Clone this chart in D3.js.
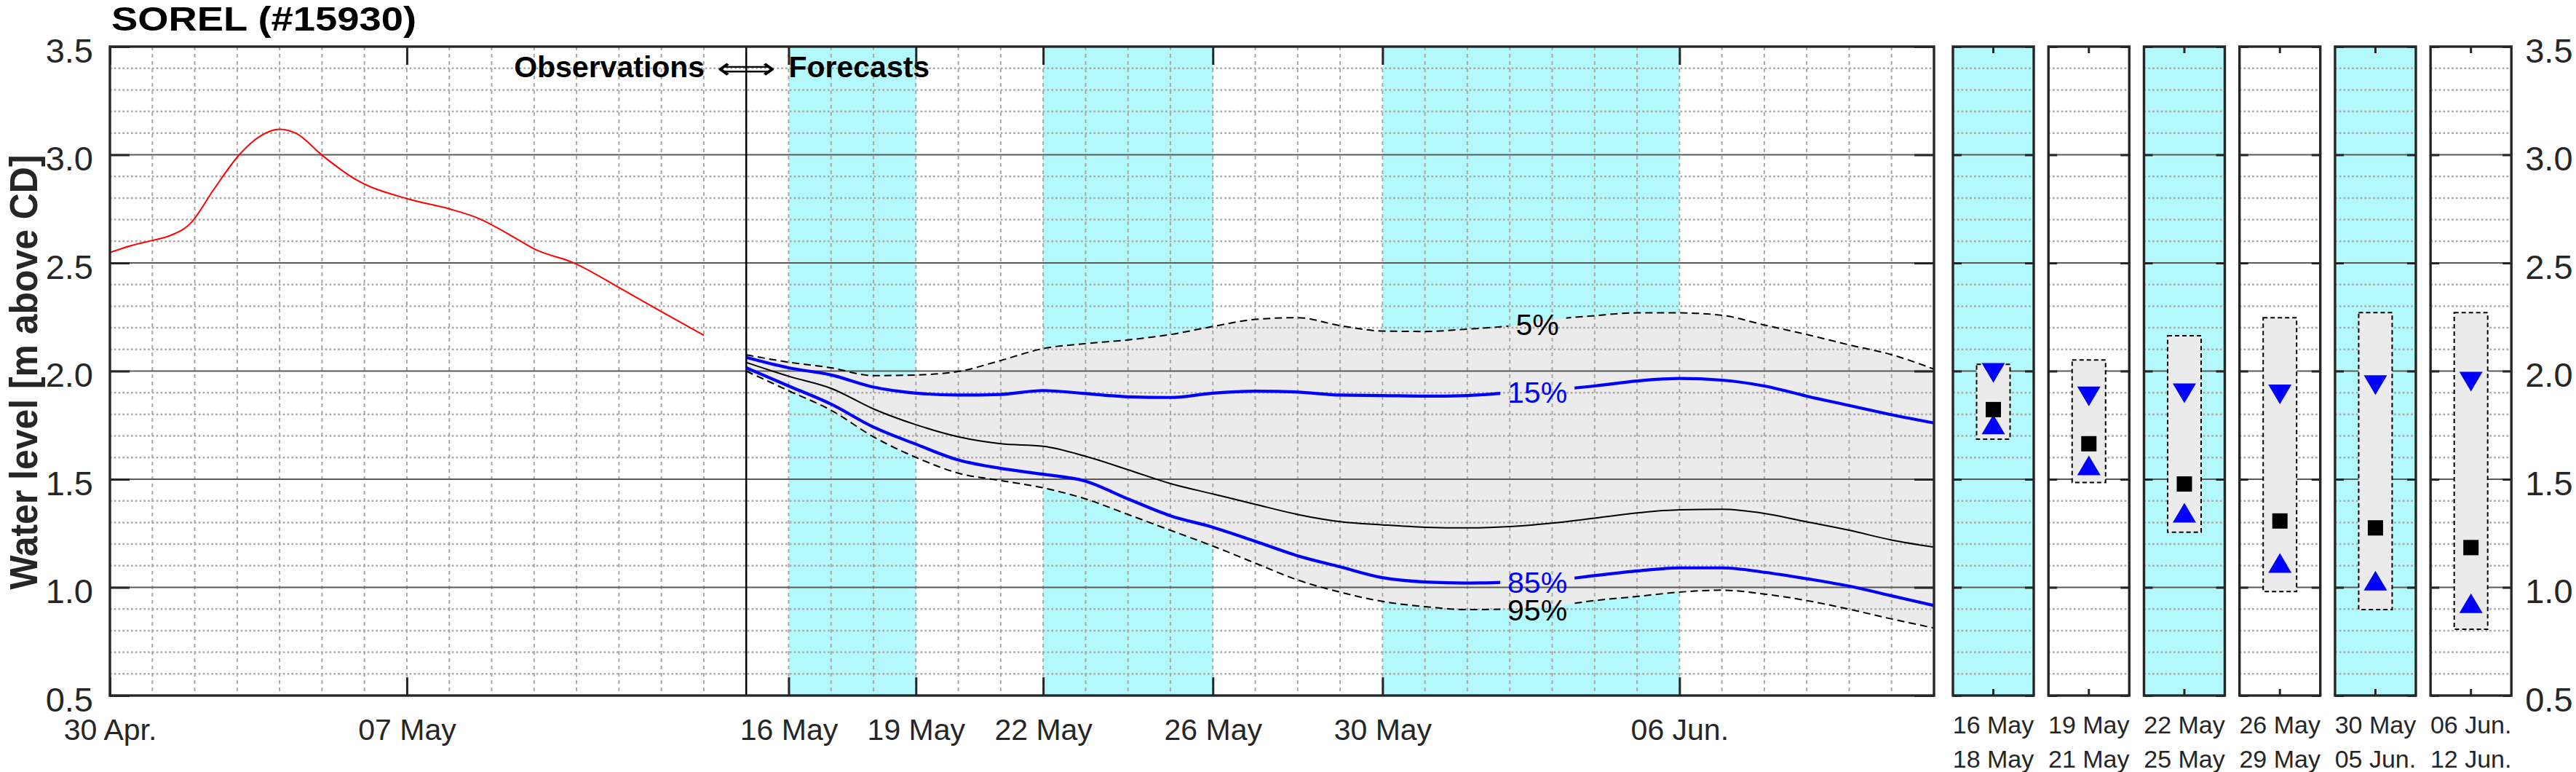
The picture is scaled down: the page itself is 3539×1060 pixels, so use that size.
<!DOCTYPE html>
<html><head><meta charset="utf-8">
<script src="https://cdn.jsdelivr.net/npm/d3@7"></script>
<style>
body{margin:0;background:#fff;}
svg{display:block;}
text{font-family:"Liberation Sans",Arial,Helvetica,sans-serif;}
</style>
</head><body>
<svg id="chart" width="3539" height="1060"></svg>
<script>
// ---------------- DATA ----------------
const title = "SOREL (#15930)";
const yLabel = "Water level [m above CD]";
const baseDate = "2019-04-30";           // day 0 of the x axis
const endDate = "2019-06-12";

// observations (day offset from 30 Apr, level)
const obsDay   = [0, 0.5, 1, 1.4, 1.9, 2.45, 3.05, 3.55, 4, 4.4, 5, 5.8, 7, 8, 8.7, 9.45, 10.05, 10.9, 12.1, 13, 14];
const obsLevel = [2.548, 2.58, 2.604, 2.625, 2.683, 2.84, 3.0, 3.087, 3.118, 3.098, 2.998, 2.885, 2.797, 2.75, 2.705, 2.627, 2.56, 2.503, 2.375, 2.275, 2.165];

// forecast percentiles (day offset from 30 Apr)
const fcDay = [15,16,17,18,19,20,21,22,23,24,25,26,27,28,29,30,31,32,33,34,35,36,37,38,39,40,41,42,43];
const q05 = [2.075,2.041,2.015,1.979,1.982,1.998,2.049,2.104,2.127,2.144,2.169,2.206,2.239,2.247,2.210,2.185,2.183,2.194,2.209,2.238,2.256,2.269,2.269,2.258,2.213,2.169,2.121,2.076,2.009];
const q15 = [2.063,2.015,1.982,1.926,1.898,1.889,1.892,1.910,1.896,1.881,1.878,1.898,1.907,1.903,1.889,1.887,1.884,1.887,1.900,1.913,1.931,1.954,1.966,1.958,1.931,1.884,1.841,1.798,1.760];
const q50 = [2.040,1.976,1.920,1.825,1.752,1.696,1.664,1.652,1.606,1.544,1.480,1.432,1.384,1.337,1.304,1.289,1.278,1.275,1.281,1.297,1.320,1.344,1.359,1.361,1.342,1.303,1.264,1.219,1.186];
const q85 = [2.015,1.931,1.847,1.741,1.662,1.589,1.550,1.523,1.491,1.409,1.331,1.278,1.213,1.146,1.095,1.045,1.025,1.020,1.024,1.033,1.054,1.076,1.090,1.090,1.070,1.040,1.006,0.961,0.916];
const q95 = [2.000,1.909,1.819,1.696,1.601,1.528,1.494,1.460,1.409,1.337,1.264,1.191,1.112,1.034,0.978,0.935,0.911,0.897,0.900,0.913,0.939,0.958,0.978,0.987,0.969,0.939,0.899,0.854,0.812];
const labelDay = 33.65;

const separatorDate = "2019-05-15";
const tickDates  = ["2019-04-30","2019-05-07","2019-05-16","2019-05-19","2019-05-22","2019-05-26","2019-05-30","2019-06-06"];
const tickLabels = ["30 Apr.","07 May","16 May","19 May","22 May","26 May","30 May","06 Jun."];
const bandStart = ["2019-05-16","2019-05-22","2019-05-30"];
const bandEnd   = ["2019-05-19","2019-05-26","2019-06-06"];
const yTicks = [0.5,1.0,1.5,2.0,2.5,3.0,3.5];

// period summary panels
const periodStart = ["16 May","19 May","22 May","26 May","30 May","06 Jun."];
const periodEnd   = ["18 May","21 May","25 May","29 May","05 Jun.","12 Jun."];
const boxHigh = [2.031, 2.051, 2.163, 2.247, 2.270, 2.270];
const boxLow  = [1.685, 1.485, 1.255, 0.981, 0.897, 0.806];
const p15     = [1.992, 1.883, 1.897, 1.892, 1.935, 1.951];
const pMed    = [1.822, 1.664, 1.478, 1.307, 1.275, 1.184];
const p85     = [1.753, 1.564, 1.345, 1.113, 1.031, 0.927];
const panelCyan = [true, false, true, false, true, false];

// ---------------- STYLE ----------------
const CYAN = "#b3f8fa", FILL = "#ebebeb", AX = "#262626";
const W = 3539, H = 1060;
const M = {left:151, right:2657, top:64, bottom:955};

const parse = d3.utcParse("%Y-%m-%d");
const base = parse(baseDate);
const toDate = d => new Date(base.getTime() + d*864e5);

const svg = d3.select("#chart");
const defs = svg.append("defs");
svg.append("rect").attr("width",W).attr("height",H).attr("fill","#fff");

const x = d3.scaleUtc().domain([base, parse(endDate)]).range([M.left, M.right]);
const y = d3.scaleLinear().domain([0.5,3.5]).range([M.bottom, M.top]);

defs.append("clipPath").attr("id","mainClip").append("rect")
  .attr("x",M.left).attr("y",M.top).attr("width",M.right-M.left).attr("height",M.bottom-M.top);

const g = svg.append("g").attr("clip-path","url(#mainClip)");

// cyan bands
bandStart.forEach((s,i)=>{
  g.append("rect").attr("x",x(parse(s))).attr("y",M.top)
   .attr("width",x(parse(bandEnd[i]))-x(parse(s))).attr("height",M.bottom-M.top)
   .attr("fill",CYAN);
});

// forecast envelope
const fc = fcDay.map((d,i)=>({d, q05:q05[i], q15:q15[i], q50:q50[i], q85:q85[i], q95:q95[i]}));
g.append("path").datum(fc)
 .attr("d", d3.area().x(p=>x(toDate(p.d))).y0(p=>y(p.q95)).y1(p=>y(p.q05)).curve(d3.curveMonotoneX))
 .attr("fill",FILL);

// grid
const minorY = d3.range(6,35).filter(i=>i%5!==0).map(i=>i/10);
const majorY = [1.0,1.5,2.0,2.5,3.0];
d3.utcDay.range(toDate(1), toDate(43)).forEach(dt=>{
  g.append("line").attr("x1",x(dt)).attr("x2",x(dt)).attr("y1",M.top).attr("y2",M.bottom)
   .attr("stroke","#a8a8a8").attr("stroke-width",2).attr("stroke-dasharray","5,5");
});
minorY.forEach(v=>{
  g.append("line").attr("x1",M.left).attr("x2",M.right).attr("y1",y(v)).attr("y2",y(v))
   .attr("stroke","#a8a8a8").attr("stroke-width",2.5).attr("stroke-dasharray","2.6,3.2");
});
majorY.forEach(v=>{
  g.append("line").attr("x1",M.left).attr("x2",M.right).attr("y1",y(v)).attr("y2",y(v))
   .attr("stroke","#5a5a5a").attr("stroke-width",2);
});

// separator
const xs = x(parse(separatorDate));
g.append("line").attr("x1",xs).attr("x2",xs).attr("y1",M.top).attr("y2",M.bottom)
 .attr("stroke","#000").attr("stroke-width",2.5);

// observed
const obs = obsDay.map((d,i)=>({d, v:obsLevel[i]}));
g.append("path").datum(obs)
 .attr("d", d3.line().x(p=>x(toDate(p.d))).y(p=>y(p.v)).curve(d3.curveMonotoneX))
 .attr("fill","none").attr("stroke","#ff0000").attr("stroke-width",2);

// forecast lines (masked around labels)
const mask = defs.append("mask").attr("id","gapMask").attr("maskUnits","userSpaceOnUse")
  .attr("x",0).attr("y",0).attr("width",W).attr("height",H);
mask.append("rect").attr("width",W).attr("height",H).attr("fill","#fff");
const gl = g.append("g").attr("mask","url(#gapMask)");
const lineOf = key => d3.line().x(p=>x(toDate(p.d))).y(p=>y(p[key])).curve(d3.curveMonotoneX);
g.append("path").datum(fc).attr("d",lineOf("q50")).attr("fill","none").attr("stroke","#000").attr("stroke-width",2);
gl.append("path").datum(fc).attr("d",lineOf("q05")).attr("fill","none").attr("stroke","#000").attr("stroke-width",2).attr("stroke-dasharray","10,6");
gl.append("path").datum(fc).attr("d",lineOf("q95")).attr("fill","none").attr("stroke","#000").attr("stroke-width",2).attr("stroke-dasharray","10,6");
gl.append("path").datum(fc).attr("d",lineOf("q15")).attr("fill","none").attr("stroke","#0000ff").attr("stroke-width",4.2);
gl.append("path").datum(fc).attr("d",lineOf("q85")).attr("fill","none").attr("stroke","#0000ff").attr("stroke-width",4.2);

// inline labels
const interp = arr => {
  const i = d3.bisectRight(fcDay, labelDay) - 1;
  const t = (labelDay - fcDay[i])/(fcDay[i+1]-fcDay[i]);
  return arr[i] + t*(arr[i+1]-arr[i]);
};
const labs = [
  {t:"5%",  v:interp(q05), c:"#000", dy:18},
  {t:"15%", v:interp(q15), c:"#0000ff", dy:16},
  {t:"85%", v:interp(q85), c:"#0000ff", dy:16},
  {t:"95%", v:interp(q95), c:"#000", dy:18}
];
labs.forEach(l=>{
  const tx = svg.append("text").attr("x",x(toDate(labelDay))).attr("y",y(l.v)+l.dy)
    .attr("text-anchor","middle").attr("font-size",41).attr("fill",l.c).text(l.t);
  const b = tx.node().getBBox();
  mask.append("rect").attr("x",b.x-10).attr("y",b.y+4).attr("width",b.width+20).attr("height",b.height-8).attr("fill","#000");
});

// Observations <=> Forecasts
svg.append("text").attr("x",xs-57).attr("y",106).attr("text-anchor","end")
  .attr("font-size",41).attr("font-weight","bold").attr("fill","#000").text("Observations");
svg.append("text").attr("x",xs).attr("y",108).attr("text-anchor","middle")
  .attr("font-size",41).attr("fill","#000").style("font-family","'DejaVu Sans',sans-serif")
  .attr("textLength",81).attr("lengthAdjust","spacingAndGlyphs").text("\u27FA");
svg.append("text").attr("x",x(parse("2019-05-16"))).attr("y",106).attr("text-anchor","start")
  .attr("font-size",41).attr("font-weight","bold").attr("fill","#000").text("Forecasts");

// axes of main plot
const tDates = tickDates.map(parse);
const axB = svg.append("g").attr("transform",`translate(0,${M.bottom})`)
  .call(d3.axisBottom(x).tickValues(tDates).tickFormat((d,i)=>tickLabels[i]).tickSizeInner(-25).tickSizeOuter(0).tickPadding(32));
const axT = svg.append("g").attr("transform",`translate(0,${M.top})`)
  .call(d3.axisTop(x).tickValues(tDates).tickFormat("").tickSizeInner(-25).tickSizeOuter(0));
const axL = svg.append("g").attr("transform",`translate(${M.left},0)`)
  .call(d3.axisLeft(y).tickValues(yTicks).tickFormat(d3.format(".1f")).tickSizeInner(-27).tickSizeOuter(0).tickPadding(23));
const axR = svg.append("g").attr("transform",`translate(${M.right},0)`)
  .call(d3.axisRight(y).tickValues(yTicks).tickFormat("").tickSizeInner(-27).tickSizeOuter(0));
[axB,axT,axL,axR].forEach(a=>{
  a.select(".domain").remove();
  a.selectAll(".tick line").attr("stroke",AX).attr("stroke-width",3);
});
axB.selectAll("text").attr("font-size",41).attr("fill",AX).attr("font-family","'Liberation Sans',Arial,sans-serif");
axL.selectAll("text").attr("font-size",47).attr("fill",AX).attr("dy","0.45em").attr("font-family","'Liberation Sans',Arial,sans-serif");
svg.append("rect").attr("x",M.left).attr("y",M.top).attr("width",M.right-M.left).attr("height",M.bottom-M.top)
  .attr("fill","none").attr("stroke",AX).attr("stroke-width",3.4);

// title and y label
svg.append("text").attr("x",153).attr("y",42).attr("font-size",46).attr("font-weight","bold")
  .attr("fill","#000").attr("textLength",419).attr("lengthAdjust","spacingAndGlyphs").text(title);
svg.append("text").attr("transform","translate(51,511) rotate(-90)").attr("text-anchor","middle")
  .attr("font-size",54).attr("font-weight","bold").attr("fill",AX)
  .attr("textLength",597).attr("lengthAdjust","spacingAndGlyphs").text(yLabel);

// ---------------- period panels ----------------
const band = d3.scaleBand().domain(periodStart).range([2683, 3450.2]).paddingInner(0.154);
periodStart.forEach((ps,i)=>{
  const px = band(ps), bw = band.bandwidth(), cx = px + bw/2;
  const pg = svg.append("g");
  pg.append("rect").attr("x",px).attr("y",M.top).attr("width",bw).attr("height",M.bottom-M.top)
    .attr("fill", panelCyan[i] ? CYAN : "#fff");
  minorY.forEach(v=>{
    pg.append("line").attr("x1",px).attr("x2",px+bw).attr("y1",y(v)).attr("y2",y(v))
      .attr("stroke","#a8a8a8").attr("stroke-width",2.5).attr("stroke-dasharray","2.6,3.2");
  });
  majorY.forEach(v=>{
    pg.append("line").attr("x1",px).attr("x2",px+bw).attr("y1",y(v)).attr("y2",y(v))
      .attr("stroke","#5a5a5a").attr("stroke-width",2);
  });
  // envelope box
  pg.append("rect").attr("x",cx-23).attr("width",46).attr("y",y(boxHigh[i])).attr("height",y(boxLow[i])-y(boxHigh[i]))
    .attr("fill",FILL).attr("stroke","#000").attr("stroke-width",2).attr("stroke-dasharray","6,4");
  // markers
  const tw = 16, th = 13.5;
  const yd = y(p15[i]), yu = y(p85[i]), ym = y(pMed[i]);
  pg.append("path").attr("d",`M${cx-tw},${yd-th}L${cx+tw},${yd-th}L${cx},${yd+th}Z`).attr("fill","#0000ff");
  pg.append("path").attr("d",`M${cx-tw},${yu+th}L${cx+tw},${yu+th}L${cx},${yu-th}Z`).attr("fill","#0000ff");
  pg.append("rect").attr("x",cx-10.5).attr("y",ym-10.5).attr("width",21).attr("height",21).attr("fill","#000");
  // y ticks
  const aL = pg.append("g").attr("transform",`translate(${px},0)`)
    .call(d3.axisLeft(y).tickValues(yTicks).tickFormat("").tickSizeInner(-12).tickSizeOuter(0));
  const aR = pg.append("g").attr("transform",`translate(${px+bw},0)`)
    .call(d3.axisRight(y).tickValues(yTicks).tickFormat(i===periodStart.length-1 ? d3.format(".1f") : "")
      .tickSizeInner(-12).tickSizeOuter(0).tickPadding(19));
  [aL,aR].forEach(a=>{
    a.select(".domain").remove();
    a.selectAll(".tick line").attr("stroke",AX).attr("stroke-width",3);
  });
  aR.selectAll("text").attr("font-size",47).attr("fill",AX).attr("dy","0.45em").attr("font-family","'Liberation Sans',Arial,sans-serif");
  // center x ticks
  pg.append("line").attr("x1",cx).attr("x2",cx).attr("y1",M.top).attr("y2",M.top+9).attr("stroke",AX).attr("stroke-width",3);
  pg.append("line").attr("x1",cx).attr("x2",cx).attr("y1",M.bottom).attr("y2",M.bottom-9).attr("stroke",AX).attr("stroke-width",3);
  pg.append("rect").attr("x",px).attr("y",M.top).attr("width",bw).attr("height",M.bottom-M.top)
    .attr("fill","none").attr("stroke",AX).attr("stroke-width",3.4);
  pg.append("text").attr("x",cx).attr("y",1007).attr("text-anchor","middle").attr("font-size",34).attr("fill",AX).text(ps);
  pg.append("text").attr("x",cx).attr("y",1054).attr("text-anchor","middle").attr("font-size",34).attr("fill",AX).text(periodEnd[i]);
});
</script>
</body></html>
